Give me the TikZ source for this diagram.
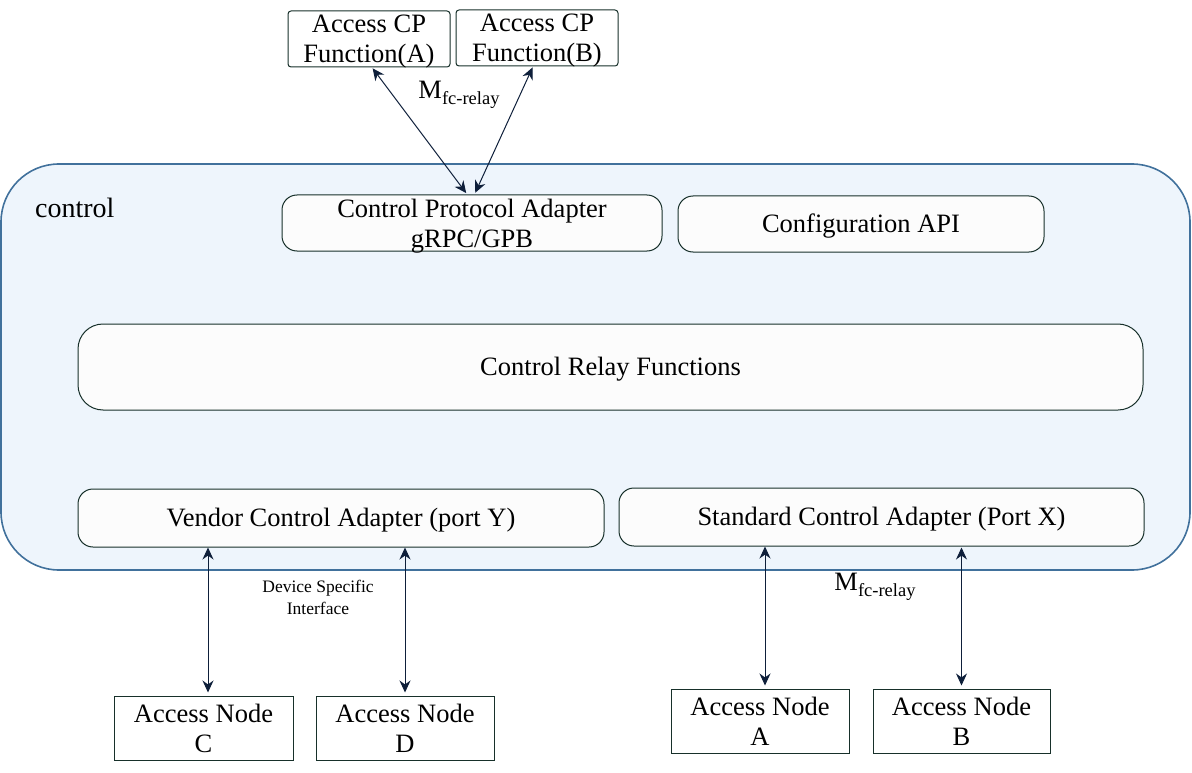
\documentclass[tikz,border=0pt]{standalone}
\usepackage{fontspec}
\setmainfont{Liberation Serif}
\usetikzlibrary{arrows.meta}
\definecolor{boxline}{HTML}{17302A}
\definecolor{ctlline}{HTML}{41719C}
\definecolor{ctlfill}{HTML}{EEF5FC}
\definecolor{innerfill}{HTML}{FCFCFC}
\definecolor{arrcol}{HTML}{0E1F3A}
\newcommand{\mfc}{M\raisebox{-0.45ex}{\fontsize{18.5}{18.5}\selectfont fc-relay}}
\newcommand{\twolines}[2]{\raisebox{0pt}[22pt][34pt]{\begin{tabular}[t]{@{}c@{}}#1\\#2\end{tabular}}}
\tikzset{
  main/.style={font=\fontsize{26.5}{30}\selectfont, align=center, inner sep=0pt},
  plainbox/.style={main, draw=boxline, line width=1pt, fill=white},
  topbox/.style={plainbox, rounded corners=3pt},
  innerbox/.style={main, draw=boxline, line width=1pt, fill=innerfill, rounded corners=15pt},
  onel/.style={text height=21pt, text depth=5pt},
  arr/.style={draw=arrcol, line width=1pt, {Stealth[length=12pt,width=11pt]}-{Stealth[length=12pt,width=11pt]}},
  lbl/.style={font=\fontsize{26.5}{30}\selectfont, inner sep=0pt}
}
\begin{document}
\begin{tikzpicture}[x=1pt,y=-1pt]
\useasboundingbox (0,0) rectangle (1192,773);
% control container
\node[draw=ctlline, line width=1.6pt, fill=ctlfill, rounded corners=58pt,
      minimum width=1189, minimum height=406, inner sep=0pt] (ctl) at (595.5,367) {};
\node[lbl, font=\fontsize{28}{30}\selectfont, anchor=west] (ctllbl) at (35,208) {control};
% inner boxes
\node[innerbox, minimum width=380, minimum height=56] (cpa) at (472,223) {\twolines{Control Protocol Adapter}{gRPC/GPB}};
\node[innerbox, onel, minimum width=366, minimum height=56] (capi) at (861,224) {Configuration API};
\node[innerbox, onel, rounded corners=25pt, minimum width=1065, minimum height=86] (crf) at (610.5,367) {Control Relay Functions};
\node[innerbox, onel, minimum width=526, minimum height=58] (vca) at (341,518) {Vendor Control Adapter (port Y)};
\node[innerbox, onel, minimum width=525, minimum height=58] (sca) at (881.5,517) {Standard Control Adapter (Port X)};
% top boxes
\node[topbox, minimum width=162, minimum height=56] (cpfA) at (369,39) {\twolines{Access CP}{Function(A)}};
\node[topbox, minimum width=162, minimum height=56] (cpfB) at (537,38) {\twolines{Access CP}{Function(B)}};
% bottom boxes
\node[plainbox, minimum width=179, minimum height=64] (nC) at (203.5,728) {\twolines{Access Node}{C}};
\node[plainbox, minimum width=178, minimum height=64] (nD) at (405,728) {\twolines{Access Node}{D}};
\node[plainbox, minimum width=178, minimum height=64] (nA) at (760,721) {\twolines{Access Node}{A}};
\node[plainbox, minimum width=177, minimum height=64] (nB) at (961.5,721) {\twolines{Access Node}{B}};
% labels
\node[lbl] (mtop) at (459,95) {\mfc};
\node[lbl] (mbot) at (875,587) {\mfc};
\node[font=\fontsize{17.5}{22}\selectfont, align=center, inner sep=0pt] (dsi) at (318,597) {Device Specific\\Interface};
% arrows
\draw[arr, shorten <=1pt, shorten >=3pt] ([xshift=3]cpfA.south) -- ([xshift=-4,yshift=-1]cpa.north);
\draw[arr, shorten <=1pt, shorten >=3pt] ([xshift=-4]cpfB.south) -- ([xshift=2,yshift=-1]cpa.north);
\draw[arr, shorten >=3pt] ([xshift=4.5]nC.north |- vca.south) -- ([xshift=4.5]nC.north);
\draw[arr, shorten >=3pt] (nD.north |- vca.south) -- (nD.north);
\draw[arr, shorten >=3pt] ([xshift=5]nA.north |- sca.south) -- ([xshift=5]nA.north);
\draw[arr, shorten >=3pt, shorten <=1pt] (nB.north |- sca.south) -- (nB.north);
\end{tikzpicture}
\end{document}
